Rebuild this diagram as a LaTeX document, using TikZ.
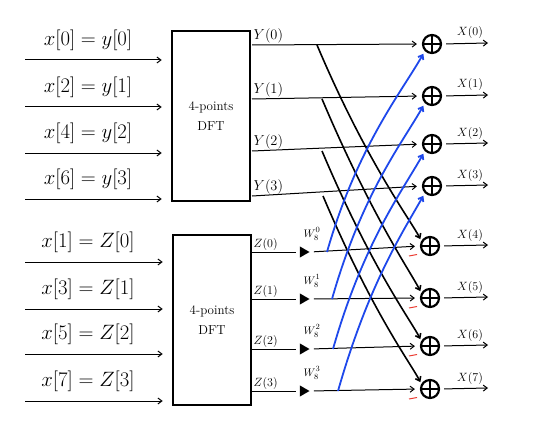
\documentclass[tikz,border=0pt]{standalone}
\usepackage{tikz}
\usetikzlibrary{arrows.meta,positioning,shapes.geometric,calc}
\definecolor{crossblue}{RGB}{30,72,235}
\definecolor{minusred}{RGB}{235,60,50}

\begin{document}
\begin{tikzpicture}[x=1pt, y=-1pt,
  sig/.style={line width=1pt, -{Straight Barb[length=4pt, width=6pt]}},
  plain/.style={line width=1pt},
  dftbox/.style={draw, line width=2.6pt, minimum width=78pt, minimum height=170pt, align=center, font=\fontsize{13}{20}\selectfont},
  adder/.style={circle, draw, line width=2.2pt, minimum size=18pt, inner sep=0pt,
    path picture={\draw[line width=2pt] (path picture bounding box.north) -- (path picture bounding box.south)
      (path picture bounding box.west) -- (path picture bounding box.east);}},
  gain/.style={regular polygon, regular polygon sides=3, shape border rotate=-90, fill, inner sep=0pt, minimum size=13pt},
  blackx/.style={line width=1.6pt, -{Straight Barb[length=4pt, width=6pt]}, shorten >=2pt},
  bluex/.style={draw=crossblue, line width=1.8pt, -{Straight Barb[length=4pt, width=6pt]}, shorten >=3pt},
  minusmark/.style={draw=minusred, line width=1pt},
  inlbl/.style={font=\fontsize{21}{22}\selectfont, inner sep=1pt},
  ylbl/.style={font=\fontsize{14}{15}\selectfont, anchor=south west, inner sep=1.5pt},
  outlbl/.style={font=\fontsize{12}{13}\selectfont, inner sep=1pt},
  wlbl/.style={font=\fontsize{11}{12}\selectfont, inner sep=0pt}]
\useasboundingbox (0,0) rectangle (535,433);
% the two half-size transforms
\node[dftbox] (dfty) at (211,116) {4-points\\DFT};
\node[dftbox] (dftz) at (212,320) {4-points\\DFT};
% even and odd samples in
\foreach \i/\t/\v/\b in {0/{x[0]=y[0]}/60/dfty, 1/{x[2]=y[1]}/107/dfty, 2/{x[4]=y[2]}/153/dfty, 3/{x[6]=y[3]}/199/dfty,
    4/{x[1]=Z[0]}/262/dftz, 5/{x[3]=Z[1]}/309/dftz, 6/{x[5]=Z[2]}/354/dftz, 7/{x[7]=Z[3]}/401/dftz}
  { \coordinate (src\i) at (25,\v);
    \draw[sig, shorten >=9pt] (src\i) -- (src\i -| \b.west);
    \node[inlbl] (xin\i) at (88,\v-20) {$\t$}; }
% adders and outputs
\foreach \k/\ax/\ay in {0/432/44, 1/432/96, 2/432/144, 3/432/186, 4/430/246, 5/430/298, 6/430/346, 7/430/389}
  { \node[adder] (a\k) at (\ax,\ay) {};
    \coordinate (o\k) at (488,\ay-1);
    \draw[sig, shorten <=4pt] (a\k.east) -- (o\k);
    \node[outlbl] (xo\k) at (470,\ay-11) {$X(\k)$}; }
% Y branch
\foreach \k/\v in {0/45, 1/99, 2/151, 3/196}
  { \coordinate (ys\k) at (252,\v);
    \draw[sig, shorten >=5pt] (ys\k) -- (a\k.west);
    \node[ylbl] (yl\k) at (ys\k) {$Y(\k)$}; }
% Z branch with twiddles
\foreach \k/\v/\a in {0/252/4, 1/299/5, 2/349/6, 3/391/7}
  { \coordinate (zs\k) at (252,\v);
    \node[gain] (g\k) at (303,\v) {};
    \draw[plain, shorten >=4pt] (zs\k) -- (g\k.west);
    \draw[sig, shorten <=4pt, shorten >=5pt] (g\k.east) -- (a\a.west);
    \node[ylbl, font=\fontsize{13}{14}\selectfont] (zl\k) at (zs\k) {$Z(\k)$};
    \node[wlbl] (w\k) at (312,\v-18) {$W_8^{\raisebox{1.5pt}{$\scriptstyle\k$}}$}; }
% Y to lower adders
\foreach \k/\sx/\sy/\a in {0/317/45/4, 1/322/99/5, 2/322/151/6, 3/323/196/7}
  { \coordinate (bk\k) at (\sx,\sy);
    \draw[blackx] (bk\k) .. controls ($(bk\k)+(50,118)$) and ($(a\a.150)+(-10,-20)$) .. (a\a.150); }
% W Z to upper adders
\foreach \k/\sx/\sy in {0/327/252, 1/332/299, 2/333/349, 3/338/391}
  { \coordinate (bz\k) at (\sx,\sy);
    \draw[bluex] (bz\k) .. controls ($(bz\k)+(30,-105)$) and ($(a\k.225)+(-24,42)$) .. (a\k.225); }
\foreach \k in {4,...,7} { \draw[minusmark] ($(a\k)+(-21,10)$) -- ++(8,-1.5); }
\end{tikzpicture}
\end{document}
